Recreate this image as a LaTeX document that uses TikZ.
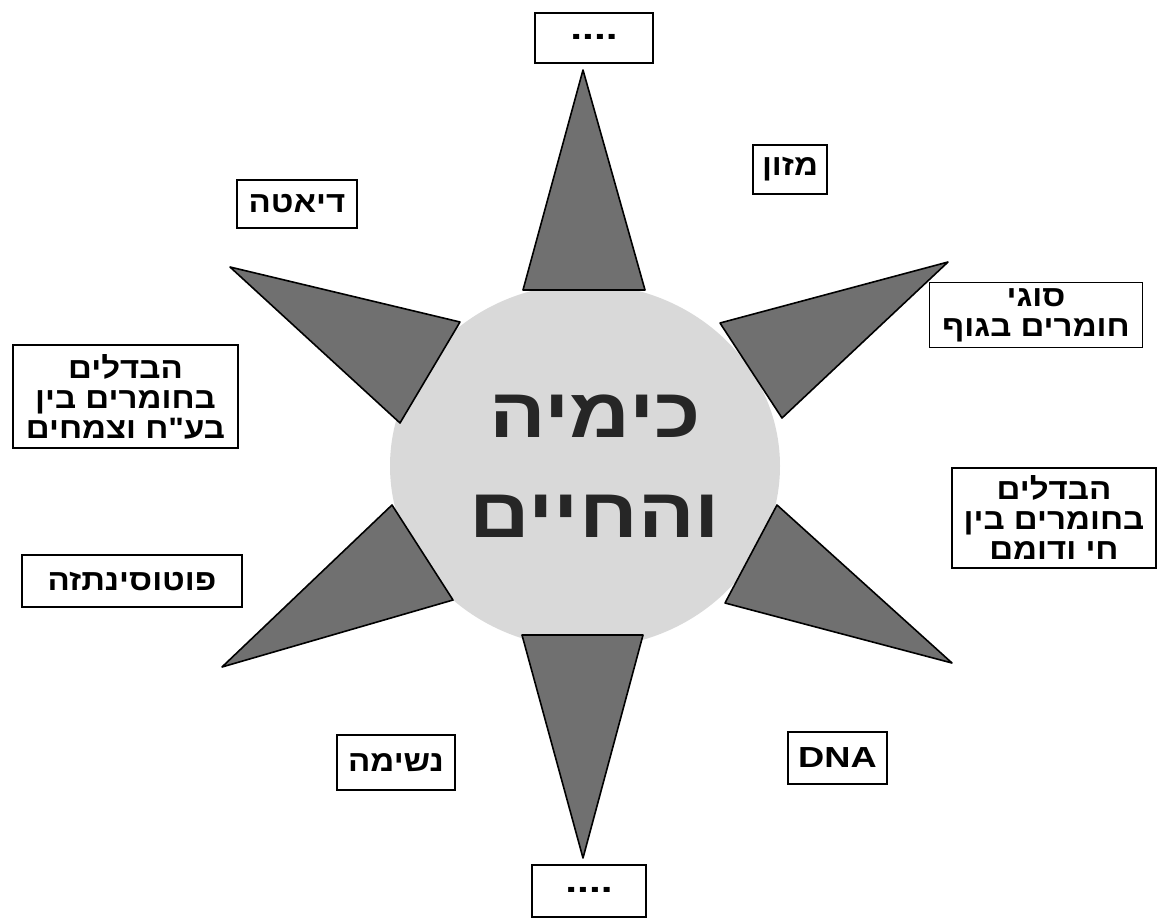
\documentclass[tikz,border=0pt]{standalone}
\usepackage{fontspec}
\setmainfont{Liberation Sans}
\newfontfamily\hebfont[Script=Hebrew, FakeStretch=1.12]{Liberation Sans}
\newfontfamily\titlefont[Script=Hebrew, FakeStretch=1.2]{Liberation Sans}
\newfontfamily\latfont[FakeStretch=1.25]{Liberation Sans}
\TeXXeTstate=1
\usetikzlibrary{shapes.geometric}
\newcommand{\heb}[1]{{\beginR #1\endR}}
\definecolor{spikegray}{HTML}{707070}
\definecolor{discgray}{HTML}{D9D9D9}
\tikzset{
  box/.style={draw=black, line width=1.6pt, fill=white, inner sep=0pt, align=center,
    font=\hebfont\bfseries\fontsize{29.5}{30}\selectfont},
  dots/.style={font=\latfont\bfseries\fontsize{34}{30}\selectfont},
  spike/.style={fill=spikegray, draw=black, line width=1.6pt, line join=round},
  disc/.style={ellipse, fill=discgray, draw=none, minimum width=390pt, minimum height=364pt, inner sep=0pt},
  title/.style={align=center, font=\titlefont\bfseries\fontsize{70}{100}\selectfont, text=black!85},
}
\begin{document}
\begin{tikzpicture}[x=1pt,y=-1pt]
\useasboundingbox (0,0) rectangle (1159,923);
\node[disc] (disc) at (585,466) {};
% spikes
\coordinate (tT) at (583,70);
\coordinate (tB) at (583,858);
\coordinate (tUL) at (230,267);
\coordinate (tLL) at (222,667);
\coordinate (tUR) at (948,262);
\coordinate (tLR) at (952,663);
\draw[spike] (523,290) -- (645,290) -- (tT) -- cycle;
\draw[spike] (522,635) -- (643,635) -- (tB) -- cycle;
\draw[spike] (460,322) -- (400,423) -- (tUL) -- cycle;
\draw[spike] (392,505) -- (453,600) -- (tLL) -- cycle;
\draw[spike] (720,323) -- (782,418) -- (tUR) -- cycle;
\draw[spike] (777,505) -- (725,603) -- (tLR) -- cycle;
% title
\node[title] (title) at (595,466) {\heb{כימיה}\\\heb{והחיים}};
% boxes
\node[box, dots, minimum width=118pt, minimum height=50pt] (top) at (594,38) {\raisebox{3pt}{....}};
\node[box, dots, minimum width=114pt, minimum height=52pt] (bottom) at (589,891) {\raisebox{3pt}{....}};
\node[box, minimum width=120pt, minimum height=48pt] (diet) at (297,204) {\heb{דיאטה}};
\node[box, minimum width=74pt, minimum height=49pt] (mazon) at (790,169.5) {\heb{מזון}};
\node[box, minimum width=213pt, minimum height=65pt] (sugey) at (1036,315) {\heb{סוגי}\\\heb{חומרים בגוף}};
\node[box, minimum width=225pt, minimum height=103pt] (leftbig) at (125.5,396.5) {\heb{הבדלים}\\\heb{בחומרים בין}\\\heb{בע"ח וצמחים}};
\node[box, minimum width=204pt, minimum height=100pt] (rightbig) at (1054,518) {\heb{הבדלים}\\\heb{בחומרים בין}\\\heb{חי ודומם}};
\node[box, minimum width=220pt, minimum height=52pt] (photo) at (132,581) {\heb{פוטוסינתזה}};
\node[box, minimum width=118pt, minimum height=55pt] (neshima) at (396,762.5) {\heb{נשימה}};
\node[box, minimum width=99pt, minimum height=52pt, font=\latfont\bfseries\fontsize{29}{30}\selectfont] (dna) at (837.5,758) {DNA};
\end{tikzpicture}
\end{document}
